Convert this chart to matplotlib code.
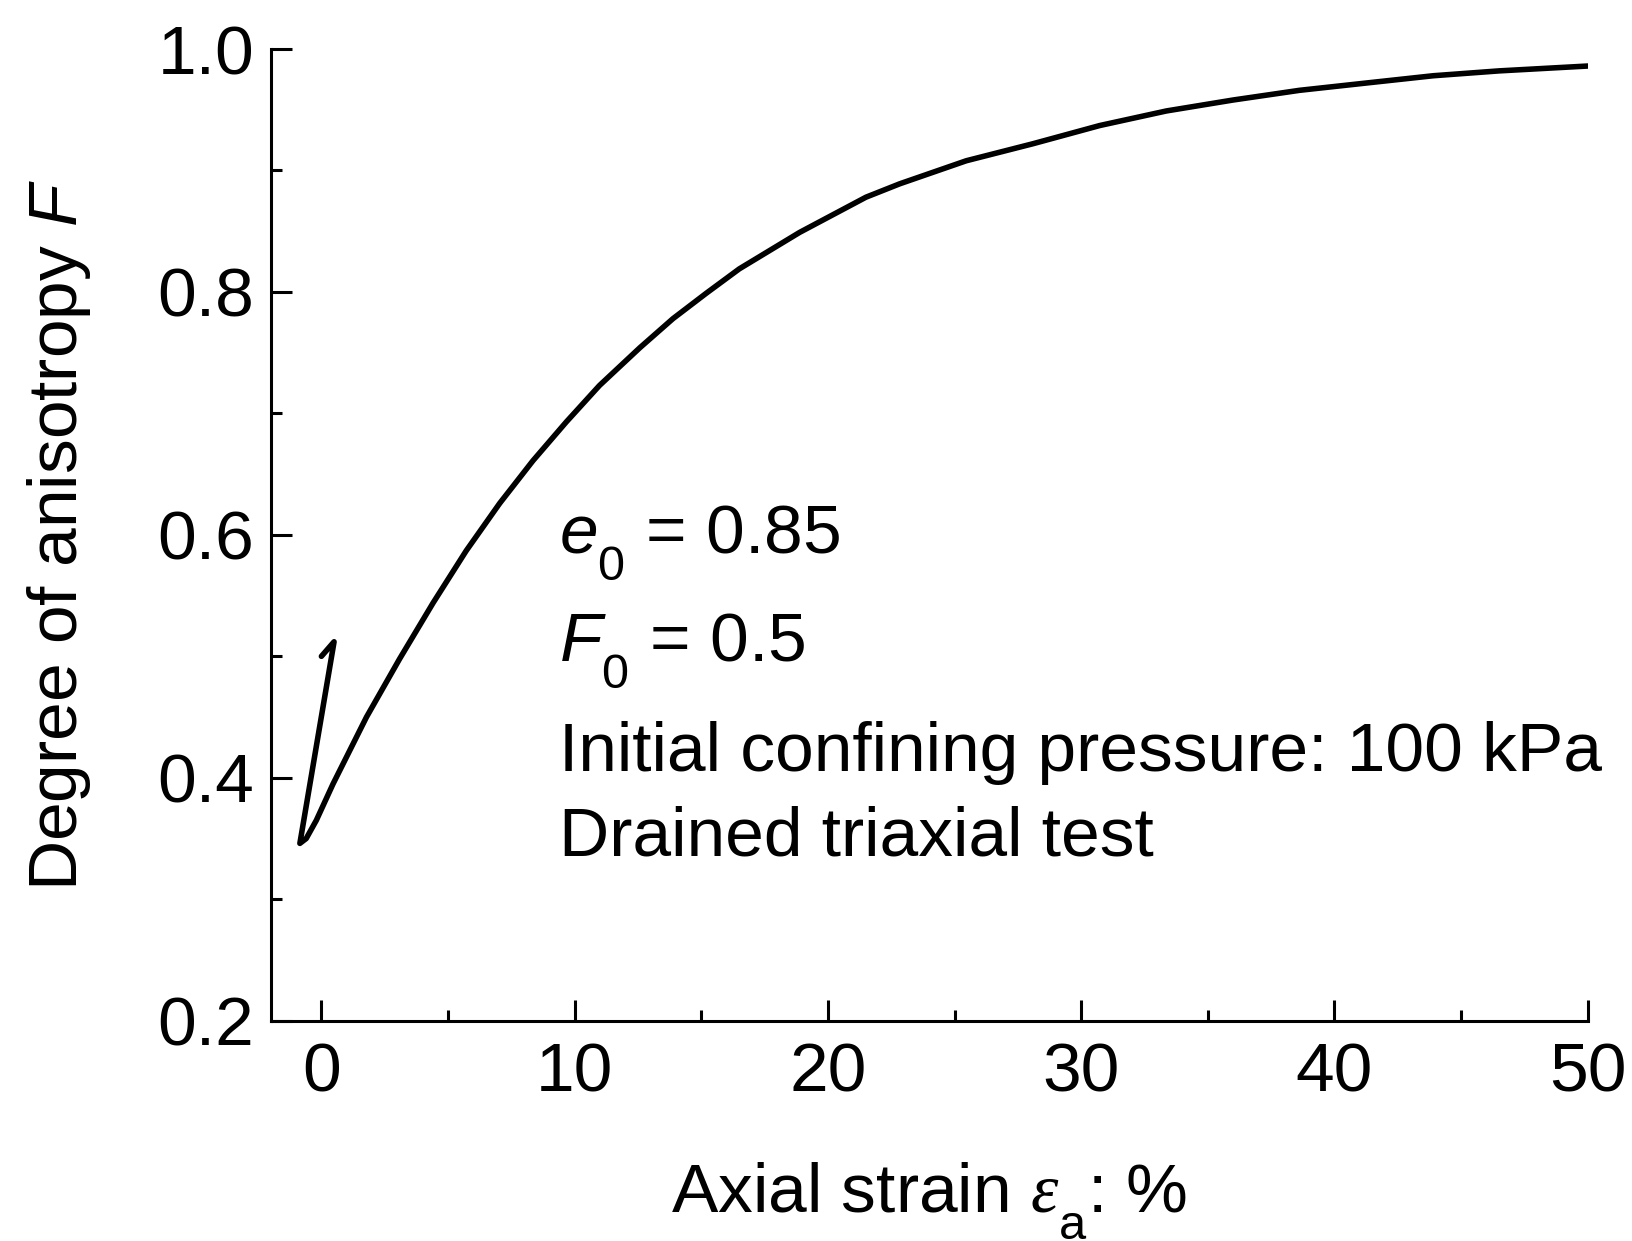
import matplotlib
matplotlib.use("Agg")
import matplotlib.pyplot as plt
from matplotlib import _mathtext
from matplotlib.ticker import MultipleLocator

strain = [0.0, 0.5, -0.85, -0.6, -0.2, 0.46, 1.78, 3.09, 4.41, 5.72, 7.04,
          8.35, 9.67, 10.98, 12.57, 13.88, 15.2, 16.5, 18.88, 21.5, 22.83,
          25.46, 28.09, 30.73, 33.36, 35.99, 38.62, 41.25, 43.9, 46.5, 50.0]
anisotropy = [0.500, 0.512, 0.346, 0.350, 0.365, 0.395, 0.450, 0.498, 0.544,
              0.587, 0.626, 0.661, 0.693, 0.723, 0.754, 0.778, 0.799, 0.819,
              0.849, 0.878, 0.889, 0.908, 0.922, 0.937, 0.949, 0.958, 0.966,
              0.972, 0.978, 0.982, 0.986]

notes = [
    r"$\mathit{e}_{\mathregular{0}}$ = 0.85",
    r"$\mathit{F}_{\mathregular{0}}$ = 0.5",
    "Initial confining pressure: 100 kPa",
    "Drained triaxial test",
]
note_y = [0.585, 0.496, 0.406, 0.336]

plt.rcParams["font.family"] = ["Liberation Sans", "DejaVu Sans"]
plt.rcParams["mathtext.fontset"] = "custom"
plt.rcParams["mathtext.rm"] = "Liberation Sans"
plt.rcParams["mathtext.it"] = "Liberation Sans:italic"
plt.rcParams["mathtext.bf"] = "Liberation Sans:bold"
plt.rcParams["mathtext.cal"] = "Liberation Serif:italic"

# subscripts sit lower in the original figure
_mathtext.FontConstantsBase.sub1 = 0.75

fig = plt.figure(figsize=(16.32, 12.41), dpi=100)
ax = fig.add_axes([0.1659, 0.1775, 0.807, 0.783])

ax.plot(strain, anisotropy, color="black", lw=4.0, solid_joinstyle="round",
        solid_capstyle="round")

ax.set_xlim(-2, 50)
ax.set_ylim(0.2, 1.0)
ax.xaxis.set_major_locator(MultipleLocator(10))
ax.xaxis.set_minor_locator(MultipleLocator(5))
ax.yaxis.set_major_locator(MultipleLocator(0.2))
ax.yaxis.set_minor_locator(MultipleLocator(0.1))
ax.yaxis.set_major_formatter(plt.FuncFormatter(lambda v, p: f"{v:.1f}"))

for side in ["top", "right"]:
    ax.spines[side].set_visible(False)
for side in ["left", "bottom"]:
    ax.spines[side].set_linewidth(2.2)

ax.tick_params(which="major", direction="in", length=15, width=2.2,
               labelsize=50)
ax.tick_params(which="minor", direction="in", length=8, width=2.2)
ax.tick_params(axis="x", pad=15)
ax.tick_params(axis="y", pad=12)

ax.set_xlabel(r"Axial strain $\mathcal{\varepsilon}_{\mathregular{a}}$: %",
              fontsize=50, labelpad=40)
ax.set_ylabel(r"Degree of anisotropy $\mathit{F}$", fontsize=50, labelpad=46)

for s, yy in zip(notes, note_y):
    ax.text(9.4, yy, s, fontsize=50, ha="left", va="baseline")

fig.savefig("out.png", dpi=100)
